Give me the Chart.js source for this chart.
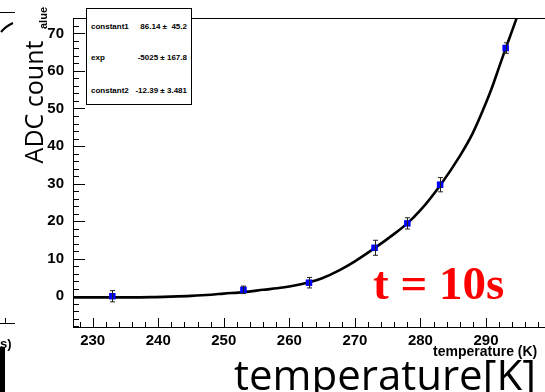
<!DOCTYPE html>
<html>
<head>
<meta charset="utf-8">
<script src="https://cdn.jsdelivr.net/npm/chart.js@4.4.1/dist/chart.umd.min.js"></script>
<style>
  body { margin: 0; background: #fff; }
  #wrap { position: relative; width: 545px; height: 392px; overflow: hidden; background: #fff; }
  #chart { position: absolute; left: 0; top: 0; }
  .abs { position: absolute; white-space: pre; line-height: 1; }
  #ytitle { left: 33px; top: 102px; font: 25px "Open Sans"; transform: translate(-50%, -50%) rotate(-90deg); }
  #alue { left: 43px; top: 18px; font: bold 11px "Liberation Sans"; transform: translate(-50%, -50%) rotate(-90deg); }
  #xsmall { left: 433px; top: 343px; font: bold 14px "Liberation Sans"; }
  #xbig { left: 234px; top: 345px; font: 42px "Open Sans"; }
  #tlabel { left: 373px; top: 256px; font: bold 47px "Liberation Serif"; color: #ff0000; }
  #stats { position: absolute; left: 86px; top: 8px; width: 104px; height: 95px; border: 1px solid #000; background: #fff; font: bold 8px "Liberation Sans"; }
  #stats .name { position: absolute; left: 4px; }
  #stats .val { position: absolute; right: 4px; white-space: pre; }
  .frag { position: absolute; background: #000; }
</style>
</head>
<body>
<div id="wrap">
  <canvas id="chart" width="545" height="392"></canvas>

  <div id="stats">
    <span class="name" style="top:13px">constant1</span><span class="val" style="top:13px">86.14 ±  45.2</span>
    <span class="name" style="top:44px">exp</span><span class="val" style="top:44px">-5025 ± 167.8</span>
    <span class="name" style="top:77px">constant2</span><span class="val" style="top:77px">-12.39 ± 3.481</span>
  </div>

  <div class="abs" id="alue">alue</div>
  <div class="abs" id="ytitle">ADC count</div>
  <div class="abs" id="xsmall">temperature (K)</div>
  <div class="abs" id="xbig">temperature[K]</div>
  <div class="abs" id="tlabel">t = 10s</div>

  <!-- bits of the neighbouring plot on the left -->
  <div class="frag" style="left:0;top:12px;width:15px;height:1px"></div>
  <svg style="position:absolute;left:0;top:0" width="20" height="40">
    <path d="M1 32 Q6 26 13 23" stroke="#000" stroke-width="2" fill="none"/>
  </svg>
  <div class="frag" style="left:0;top:323px;width:15px;height:1px"></div>
  <div class="frag" style="left:5px;top:318px;width:1px;height:5px"></div>
  <div class="abs" style="left:0;top:336px;font:bold 13px 'Liberation Sans'">s)</div>
  <div class="frag" style="left:0;top:347px;width:5px;height:45px"></div>
</div>

<script>
// measured points
const temperatures = [233, 253, 263, 273, 278, 283, 293];
const adcCounts = [0.0, 1.7, 3.6, 12.9, 19.4, 29.7, 66.1];
const adcErrors = [1.5, 1.0, 1.4, 2.0, 1.5, 1.9, 1.4];

// fitted curve
const fitTemperatures = [227, 231, 235, 239, 242, 245, 248, 250, 253, 256, 259, 261, 263, 265, 267.6, 270, 273, 276, 278, 280, 283, 286, 288, 290, 291, 292, 293, 294, 294.7];
const fitValues = [-0.3, -0.3, -0.3, -0.25, -0.1, 0.1, 0.4, 0.7, 1.1, 1.7, 2.3, 2.9, 3.7, 4.8, 6.9, 9.3, 12.8, 16.6, 19.4, 22.9, 29.5, 37.3, 43.5, 51.5, 56.0, 61.0, 66.0, 70.8, 74.2];

// axis ticks
const xTickValues = [230, 240, 250, 260, 270, 280, 290];
const yTickValues = [0, 10, 20, 30, 40, 50, 60, 70];

// ROOT-style inside ticks, frame top and error bars
const rootStyle = {
  id: "rootStyle",
  afterDatasetsDraw(chart) {
    const ctx = chart.ctx;
    const xs = chart.scales.x;
    const ys = chart.scales.y;
    const area = chart.chartArea;
    ctx.save();

    // error bars
    ctx.strokeStyle = "#222";
    ctx.lineWidth = 1;
    temperatures.forEach((t, i) => {
      const px = Math.round(xs.getPixelForValue(t)) + 0.5;
      const top = ys.getPixelForValue(adcCounts[i] + adcErrors[i]);
      const bot = ys.getPixelForValue(adcCounts[i] - adcErrors[i]);
      ctx.beginPath();
      ctx.moveTo(px, top); ctx.lineTo(px, bot);
      ctx.moveTo(px - 2.5, top); ctx.lineTo(px + 2.5, top);
      ctx.moveTo(px - 2.5, bot); ctx.lineTo(px + 2.5, bot);
      ctx.stroke();
    });

    // frame top
    ctx.strokeStyle = "#000";
    ctx.beginPath();
    ctx.moveTo(area.left, area.top + 0.5);
    ctx.lineTo(area.right, area.top + 0.5);
    ctx.stroke();

    // x ticks (pointing up)
    ctx.beginPath();
    for (let v = Math.ceil(xs.min / 2) * 2; v <= xs.max; v += 2) {
      const px = Math.round(xs.getPixelForValue(v)) + 0.5;
      const len = v % 10 === 0 ? 9 : 5;
      ctx.moveTo(px, area.bottom);
      ctx.lineTo(px, area.bottom - len);
    }
    // y ticks (pointing right)
    for (let v = Math.ceil(ys.min / 2) * 2; v <= ys.max; v += 2) {
      const py = Math.round(ys.getPixelForValue(v)) + 0.5;
      const len = v % 10 === 0 ? 12 : 6;
      ctx.moveTo(area.left, py);
      ctx.lineTo(area.left + len, py);
    }
    ctx.stroke();
    ctx.restore();
  }
};

new Chart(document.getElementById("chart"), {
  type: "scatter",
  data: {
    datasets: [
      {
        label: "data",
        data: temperatures.map((t, i) => ({ x: t, y: adcCounts[i] })),
        pointStyle: "rect",
        pointRadius: 4.6,
        pointBackgroundColor: "#0000ff",
        pointBorderWidth: 0,
        showLine: false
      },
      {
        label: "fit",
        data: fitTemperatures.map((t, i) => ({ x: t, y: fitValues[i] })),
        showLine: true,
        borderColor: "#000",
        borderWidth: 2.6,
        pointRadius: 0,
        cubicInterpolationMode: "monotone",
        fill: false
      }
    ]
  },
  options: {
    responsive: false,
    animation: false,
    layout: { autoPadding: false, padding: { top: 8, right: 0, left: 0, bottom: 0 } },
    plugins: { legend: { display: false }, tooltip: { enabled: false } },
    scales: {
      x: {
        type: "linear",
        min: 227,
        max: 299,
        afterBuildTicks: (s) => { s.ticks = xTickValues.map((v) => ({ value: v })); },
        afterFit: (s) => { s.height = 65; },
        grid: { display: false, drawTicks: false },
        border: { display: true, color: "#000", width: 1 },
        ticks: { padding: 5, color: "#000", font: { family: "Liberation Sans", weight: "bold", size: 15 } }
      },
      y: {
        type: "linear",
        min: -8.2,
        max: 74.1,
        afterBuildTicks: (s) => { s.ticks = yTickValues.map((v) => ({ value: v })); },
        afterFit: (s) => { s.width = 73; },
        grid: { display: false, drawTicks: false },
        border: { display: true, color: "#000", width: 1 },
        ticks: { padding: 9, color: "#000", font: { family: "Liberation Sans", weight: "bold", size: 15 } }
      }
    }
  },
  plugins: [rootStyle]
});
</script>
</body>
</html>
